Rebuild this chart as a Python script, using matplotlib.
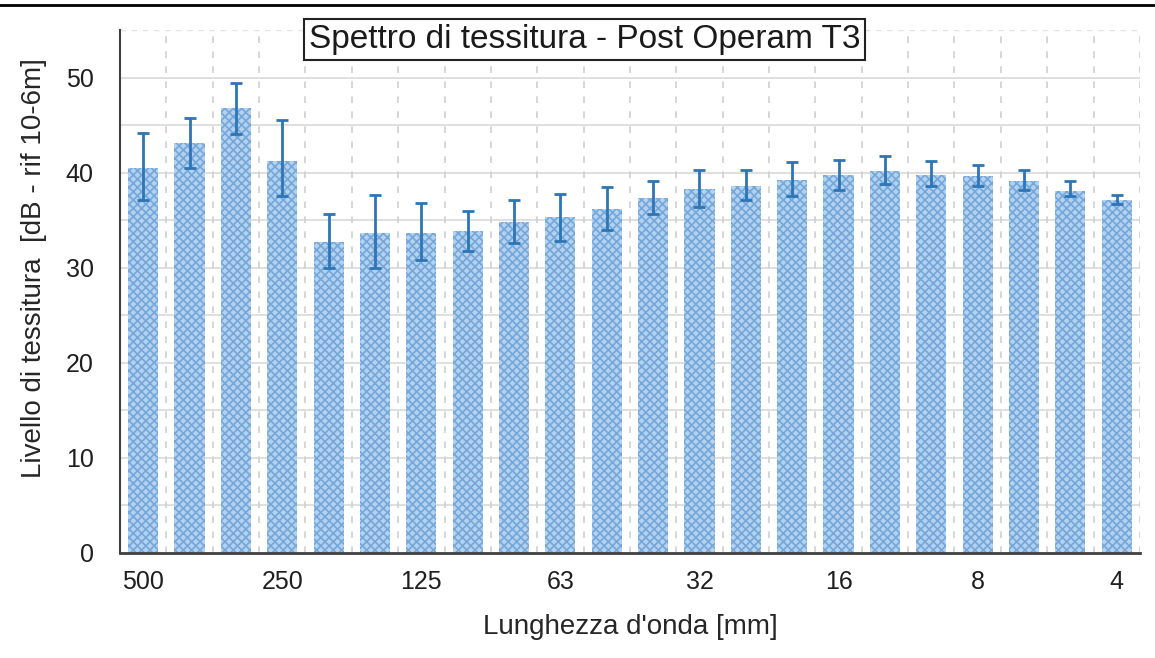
import matplotlib
matplotlib.use("Agg")
import matplotlib.pyplot as plt
import numpy as np

plt.rcParams['font.family'] = ['Liberation Sans', 'DejaVu Sans']
plt.rcParams['hatch.linewidth'] = 1.2

wavelengths = ["500", "400", "315", "250", "200", "160", "125", "100", "80", "63", "50",
               "40", "31.5", "25", "20", "16", "12.5", "10", "8", "6.3", "5", "4"]
tick_labels = ["500", "", "", "250", "", "", "125", "", "", "63", "", "",
               "32", "", "", "16", "", "", "8", "", "", "4"]
levels = [40.5, 43.1, 46.8, 41.2, 32.7, 33.7, 33.7, 33.9, 34.8, 35.3, 36.2,
          37.3, 38.3, 38.6, 39.2, 39.7, 40.2, 39.8, 39.6, 39.1, 38.1, 37.1]
err_hi = [44.2, 45.7, 49.4, 45.5, 35.6, 37.6, 36.8, 36.0, 37.1, 37.8, 38.5,
          39.1, 40.3, 40.3, 41.1, 41.3, 41.7, 41.2, 40.8, 40.3, 39.1, 37.7]
err_lo = [37.1, 40.5, 44.1, 37.5, 30.0, 30.0, 30.8, 31.8, 32.6, 32.8, 34.0,
          35.7, 36.4, 37.1, 37.5, 38.2, 38.8, 38.6, 38.6, 38.2, 37.5, 36.7]

levels = np.array(levels)
yerr = np.array([levels - np.array(err_lo), np.array(err_hi) - levels])
x = np.arange(len(wavelengths))

fig = plt.figure(figsize=(11.55, 6.58), dpi=100)
ax = fig.add_axes([0.1039, 0.1596, 0.883, 0.7948])

# grid
for v in range(5, 55, 5):
    ax.axhline(v, color='#d9d9d9', lw=1.2, zorder=0)
ax.axhline(55, color='#e3e3e3', lw=1.0, ls=(0, (4, 4)), zorder=0)
for b in np.arange(0.5, 22, 1.0):
    ax.axvline(b, color='#d0d0d0', lw=1.2, ls=(0, (4, 5)), zorder=0)

ax.bar(x, levels, width=0.65, facecolor='#b4d1ef', edgecolor='#74a7da',
       hatch='xxxx', linewidth=0, zorder=2)
ax.errorbar(x, levels, yerr=yerr, fmt='none', ecolor='#2e75b6', elinewidth=2,
            capsize=4.5, capthick=2, zorder=3)

ax.set_xlim(-0.5, 21.5)
ax.set_ylim(0, 55)
ax.set_yticks([0, 10, 20, 30, 40, 50])
ax.set_xticks(x)
ax.set_xticklabels(tick_labels)
ax.tick_params(axis='both', length=0, labelsize=18, colors='#1f1f1f')
ax.tick_params(axis='y', pad=19)
ax.tick_params(axis='x', pad=12)

for s in ['top', 'right']:
    ax.spines[s].set_visible(False)
ax.spines['left'].set_color('#404040')
ax.spines['left'].set_linewidth(1.5)
ax.spines['bottom'].set_color('#404040')
ax.spines['bottom'].set_linewidth(2)

ax.set_ylabel("Livello di tessitura  [dB - rif 10-6m]", fontsize=20, color='#262626', va='center')
ax.yaxis.set_label_coords(-0.0843, 0.545)
ax.set_xlabel("Lunghezza d'onda [mm]", fontsize=20, color='#262626', va='center')
ax.xaxis.set_label_coords(0.5, -0.1415)

fig.text(0.506, 0.940, "Spettro di tessitura - Post Operam T3", fontsize=24,
         ha='center', va='center', color='#1a1a1a',
         bbox=dict(boxstyle='square,pad=0.15', facecolor='white', edgecolor='#222222', lw=1.5))

fig.add_artist(plt.Line2D([0, 1], [0.993, 0.993], color='black', lw=2, transform=fig.transFigure))

fig.savefig("out.png", dpi=100)
